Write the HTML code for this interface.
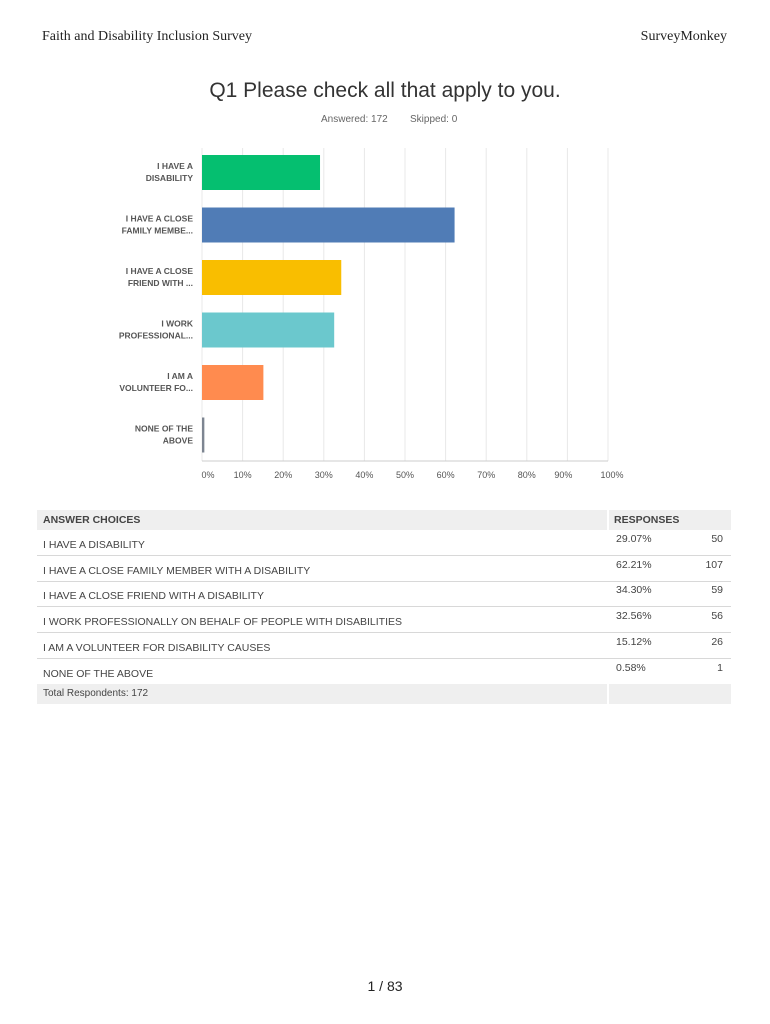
<!DOCTYPE html>
<html><head><meta charset="utf-8"><style>
body{margin:0;width:770px;height:1024px;background:#fff;position:relative;font-family:"Liberation Sans",sans-serif;overflow:hidden}
.abs{position:absolute}
.hdr{font-family:"Liberation Serif",serif;font-size:14px;color:#222;top:29px}
.row{position:absolute;left:37px;width:694px;height:25px;border-bottom:1px solid #d8d8d8;font-size:10.5px;color:#444}
.row .c{position:absolute;left:6px;top:9px}
.row .p{position:absolute;left:579px;top:3px}
.row .n{position:absolute;right:8px;top:3px}
</style></head><body>
<div class="abs hdr" style="left:42px">Faith and Disability Inclusion Survey</div>
<div class="abs hdr" style="right:43px">SurveyMonkey</div>
<div class="abs" style="left:0;width:770px;top:79px;text-align:center;font-size:21px;color:#333">Q1 Please check all that apply to you.</div>
<div class="abs" style="left:321px;top:114px;font-size:10px;color:#666">Answered: 172</div>
<div class="abs" style="left:410px;top:114px;font-size:10px;color:#666">Skipped: 0</div>
<svg class="abs" style="left:0;top:0" width="770" height="500" id="chart"></svg>
<div class="abs" style="left:37px;top:510px;width:694px;height:20px;background:#efefef">
<span class="abs" style="left:6px;top:4px;font-size:10.5px;font-weight:bold;color:#444">ANSWER CHOICES</span>
<span class="abs" style="left:577px;top:4px;font-size:10.5px;font-weight:bold;color:#444">RESPONSES</span>
<span class="abs" style="left:570px;top:0;width:2px;height:20px;background:#fff"></span>
</div>
<div id="rows"></div>
<div class="abs" style="left:37px;top:684px;width:694px;height:20px;background:#efefef">
<span class="abs" style="left:6px;top:4px;font-size:10px;color:#444">Total Respondents: 172</span>
<span class="abs" style="left:570px;top:0;width:2px;height:20px;background:#fff"></span>
</div>
<div class="abs" style="left:0;width:770px;top:978px;text-align:center;font-size:14px;color:#222">1 / 83</div>
<script>
const labels=[["I HAVE A","DISABILITY"],["I HAVE A CLOSE","FAMILY MEMBE..."],["I HAVE A CLOSE","FRIEND WITH ..."],["I WORK","PROFESSIONAL..."],["I AM A","VOLUNTEER FO..."],["NONE OF THE","ABOVE"]];
const fullLabels=["I HAVE A DISABILITY","I HAVE A CLOSE FAMILY MEMBER WITH A DISABILITY","I HAVE A CLOSE FRIEND WITH A DISABILITY","I WORK PROFESSIONALLY ON BEHALF OF PEOPLE WITH DISABILITIES","I AM A VOLUNTEER FOR DISABILITY CAUSES","NONE OF THE ABOVE"];
const percents=[29.07,62.21,34.30,32.56,15.12,0.58];
const counts=[50,107,59,56,26,1];
const colors=["#05bf70","#507cb6","#f9be00","#6bc8cd","#ff8b4f","#7d8591"];
const ticks=[0,10,20,30,40,50,60,70,80,90,100];
const NS="http://www.w3.org/2000/svg";
const svg=document.getElementById('chart');
const X0=202,X1=608,Y0=148,BAND=52.5,BH=35;
const x=v=>X0+(X1-X0)*v/100;
const y=i=>Y0+i*BAND+7;
function mk(t,a){const e=document.createElementNS(NS,t);for(const k in a)e.setAttribute(k,a[k]);svg.appendChild(e);return e;}
ticks.forEach(t=>{
 const g=mk('line',{x1:x(t),x2:x(t),y1:Y0,y2:461,stroke:'#e8e8e8','stroke-width':1});
 
 
 const tx=mk('text',{x:x(t)+(t===100?4:t===90?-4:t===0?6:0),y:478,'font-size':9,fill:'#555','text-anchor':'middle','font-family':'Liberation Sans, sans-serif'});
 tx.textContent=t+'%';
 
 
});
const ax=mk('line',{x1:X0,x2:X1,y1:461,y2:461,stroke:'#ccc','stroke-width':1});


percents.forEach((p,i)=>{
 const r=mk('rect',{x:X0,y:y(i),width:Math.max(1.5,x(p)-X0),height:BH,fill:colors[i]});
 
 
 labels[i].forEach((l,j)=>{
  const t=mk('text',{x:193,y:y(i)+14+j*12,'font-size':8.5,'font-weight':'bold',fill:'#555','text-anchor':'end','font-family':'Liberation Sans, sans-serif'});
  t.textContent=l;
  
  
 });
});
const rows=document.getElementById('rows');
fullLabels.forEach((l,i)=>{
 const d=document.createElement('div');
 d.className='row';d.style.top=(530+i*25.7)+'px';
 
 
 d.innerHTML='<span class="c">'+l+'</span><span class="p">'+percents[i].toFixed(2)+'%</span><span class="n">'+counts[i]+'</span>';
 rows.appendChild(d);
});
</script>
</body></html>
